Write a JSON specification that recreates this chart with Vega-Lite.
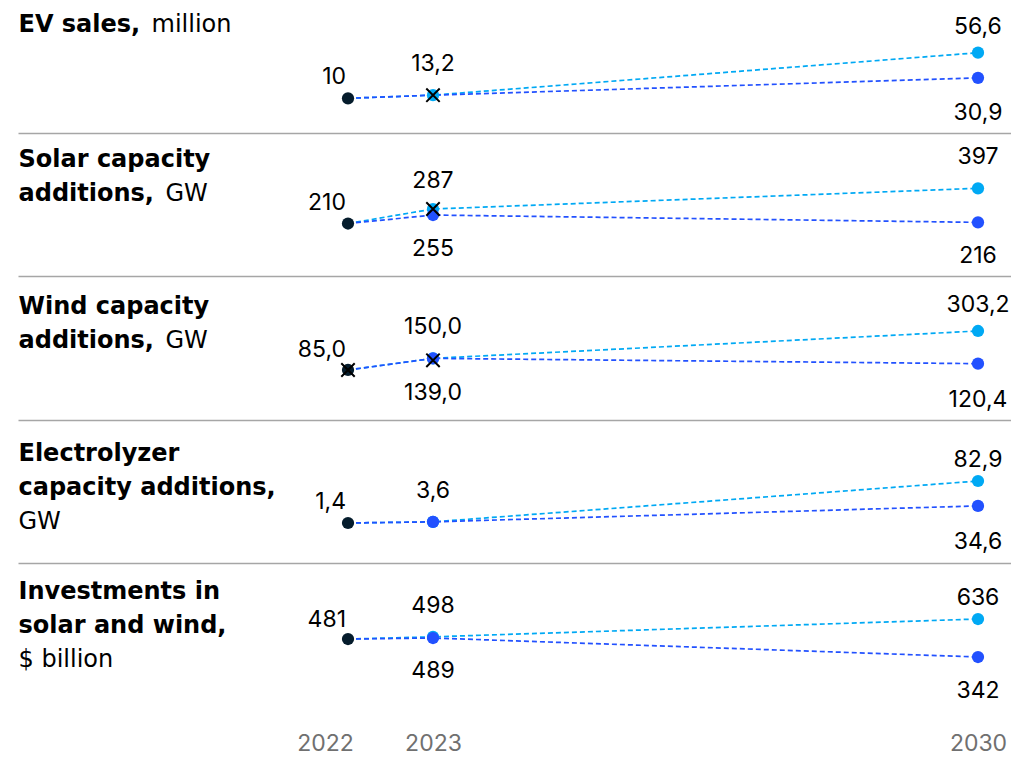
{
  "$schema": "https://vega.github.io/schema/vega-lite/v6.json",
  "padding": {"left": 18, "right": 0, "top": 0, "bottom": 0},
  "background": "#ffffff",
  "spacing": 0,
  "bounds": "flush",
  "data": {
    "values": [
      {"metric": "ev", "year": 2022, "series": "base", "value": 10},
      {"metric": "ev", "year": 2022, "series": "high", "value": 10},
      {"metric": "ev", "year": 2023, "series": "high", "value": 13.2},
      {"metric": "ev", "year": 2030, "series": "high", "value": 56.6},
      {"metric": "ev", "year": 2022, "series": "low", "value": 10},
      {"metric": "ev", "year": 2023, "series": "low", "value": 13.2},
      {"metric": "ev", "year": 2030, "series": "low", "value": 30.9},
      {"metric": "ev", "year": 2023, "series": "actual", "value": 13.2},

      {"metric": "solar", "year": 2022, "series": "base", "value": 210},
      {"metric": "solar", "year": 2022, "series": "high", "value": 210},
      {"metric": "solar", "year": 2023, "series": "high", "value": 287},
      {"metric": "solar", "year": 2030, "series": "high", "value": 397},
      {"metric": "solar", "year": 2022, "series": "low", "value": 210},
      {"metric": "solar", "year": 2023, "series": "low", "value": 255},
      {"metric": "solar", "year": 2030, "series": "low", "value": 216},
      {"metric": "solar", "year": 2023, "series": "actual", "value": 287},

      {"metric": "wind", "year": 2022, "series": "base", "value": 85},
      {"metric": "wind", "year": 2022, "series": "high", "value": 85},
      {"metric": "wind", "year": 2023, "series": "high", "value": 150},
      {"metric": "wind", "year": 2030, "series": "high", "value": 303.2},
      {"metric": "wind", "year": 2022, "series": "low", "value": 85},
      {"metric": "wind", "year": 2023, "series": "low", "value": 150},
      {"metric": "wind", "year": 2030, "series": "low", "value": 120.4},
      {"metric": "wind", "year": 2022, "series": "actual", "value": 85},
      {"metric": "wind", "year": 2023, "series": "actual", "value": 139},

      {"metric": "electrolyzer", "year": 2022, "series": "base", "value": 1.4},
      {"metric": "electrolyzer", "year": 2022, "series": "high", "value": 1.4},
      {"metric": "electrolyzer", "year": 2023, "series": "high", "value": 3.6},
      {"metric": "electrolyzer", "year": 2030, "series": "high", "value": 82.9},
      {"metric": "electrolyzer", "year": 2022, "series": "low", "value": 1.4},
      {"metric": "electrolyzer", "year": 2023, "series": "low", "value": 3.6},
      {"metric": "electrolyzer", "year": 2030, "series": "low", "value": 34.6},

      {"metric": "investment", "year": 2022, "series": "base", "value": 481},
      {"metric": "investment", "year": 2022, "series": "high", "value": 481},
      {"metric": "investment", "year": 2023, "series": "high", "value": 498},
      {"metric": "investment", "year": 2030, "series": "high", "value": 636},
      {"metric": "investment", "year": 2022, "series": "low", "value": 481},
      {"metric": "investment", "year": 2023, "series": "low", "value": 489},
      {"metric": "investment", "year": 2030, "series": "low", "value": 342}
    ]
  },
  "vconcat": [
    {
      "width": 993,
      "height": 133,
      "transform": [{"filter": {"field": "metric", "equal": "ev"}}],
      "encoding": {
        "x": {
          "field": "year", "type": "quantitative",
          "scale": {"domain": [2018.17, 2022, 2023, 2030, 2030.4], "range": [0, 330, 415, 960, 993], "nice": false, "zero": false},
          "axis": {"orient": "bottom", "domain": true, "domainColor": "#a6a6a6", "domainWidth": 1.5, "labels": false, "ticks": false, "grid": false,
                   "title": "million", "titleFontWeight": "normal", "titleFontSize": 24, "titleColor": "#000000",
                   "titleX": 133, "titleY": -102, "titleAlign": "left", "titleBaseline": "alphabetic", "titleAngle": 0}
        },
        "y": {
          "field": "value", "type": "quantitative",
          "scale": {"domain": [-25.46, 110.46], "nice": false, "zero": false},
          "axis": {"domain": false, "labels": false, "ticks": false, "grid": false,
                   "title": "EV sales,", "titleFontWeight": "bold", "titleFontSize": 24, "titleColor": "#000000",
                   "titleAngle": 0, "titleAlign": "left", "titleBaseline": "alphabetic", "titleX": 0, "titleY": 31, "titleLineHeight": 34}
        }
      },
      "layer": [
        {"mark": {"type": "line", "strokeDash": [5, 3], "strokeWidth": 1.7},
         "transform": [{"filter": {"field": "series", "oneOf": ["high", "low"]}}],
         "encoding": {"color": {"field": "series", "type": "nominal", "scale": {"domain": ["high", "low"], "range": ["#00a9f4", "#2251ff"]}, "legend": null}}},
        {"mark": {"type": "circle", "size": 150, "opacity": 1},
         "transform": [{"filter": "(datum.series == 'high' || datum.series == 'low') && datum.year > 2022 && !(datum.series == 'low' && datum.year == 2023)"}],
         "encoding": {"color": {"field": "series", "type": "nominal", "scale": {"domain": ["high", "low"], "range": ["#00a9f4", "#2251ff"]}, "legend": null}}},
        {"mark": {"type": "circle", "size": 150, "opacity": 1, "color": "#051c2c"},
         "transform": [{"filter": {"field": "series", "equal": "base"}}]},
        {"mark": {"type": "point", "shape": "M-1,-1L1,1M1,-1L-1,1", "filled": false, "color": "#000000", "strokeWidth": 2, "size": 180, "opacity": 1},
         "transform": [{"filter": {"field": "series", "equal": "actual"}}]},
        {"mark": {"type": "text", "align": "right", "dx": -2, "dy": -21, "fontSize": 23, "color": "#000000"},
         "transform": [{"filter": {"field": "series", "equal": "base"}}],
         "encoding": {"text": {"field": "value", "type": "quantitative", "format": ".1~f"}}},
        {"mark": {"type": "text", "align": "center", "dy": -31, "fontSize": 23, "color": "#000000"},
         "transform": [{"filter": "datum.series == 'high' && datum.year == 2023"}],
         "encoding": {"text": {"field": "value", "type": "quantitative", "format": ".1~f"}}},
        {"mark": {"type": "text", "align": "center", "dy": -26, "fontSize": 23, "color": "#000000"},
         "transform": [{"filter": "datum.series == 'high' && datum.year == 2030"}],
         "encoding": {"text": {"field": "value", "type": "quantitative", "format": ".1~f"}}},
        {"mark": {"type": "text", "align": "center", "dy": 35, "fontSize": 23, "color": "#000000"},
         "transform": [{"filter": "datum.series == 'low' && datum.year == 2030"}],
         "encoding": {"text": {"field": "value", "type": "quantitative", "format": ".1~f"}}}
      ]
    },
    {
      "width": 993,
      "height": 143,
      "transform": [{"filter": {"field": "metric", "equal": "solar"}}],
      "encoding": {
        "x": {
          "field": "year", "type": "quantitative",
          "scale": {"domain": [2018.17, 2022, 2023, 2030, 2030.4], "range": [0, 330, 415, 960, 993], "nice": false, "zero": false},
          "axis": {"orient": "bottom", "domain": true, "domainColor": "#a6a6a6", "domainWidth": 1.5, "labels": false, "ticks": false, "grid": false,
                   "title": "GW", "titleFontWeight": "normal", "titleFontSize": 24, "titleColor": "#000000",
                   "titleX": 147, "titleY": -76, "titleAlign": "left", "titleBaseline": "alphabetic", "titleAngle": 0}
        },
        "y": {
          "field": "value", "type": "quantitative",
          "scale": {"domain": [-68.9, 690.8], "nice": false, "zero": false},
          "axis": {"domain": false, "labels": false, "ticks": false, "grid": false,
                   "title": ["Solar capacity", "additions,"], "titleFontWeight": "bold", "titleFontSize": 24, "titleColor": "#000000",
                   "titleAngle": 0, "titleAlign": "left", "titleBaseline": "alphabetic", "titleX": 0, "titleY": 33, "titleLineHeight": 34}
        }
      },
      "layer": [
        {"mark": {"type": "line", "strokeDash": [5, 3], "strokeWidth": 1.7},
         "transform": [{"filter": {"field": "series", "oneOf": ["high", "low"]}}],
         "encoding": {"color": {"field": "series", "type": "nominal", "scale": {"domain": ["high", "low"], "range": ["#00a9f4", "#2251ff"]}, "legend": null}}},
        {"mark": {"type": "circle", "size": 150, "opacity": 1},
         "transform": [{"filter": "(datum.series == 'high' || datum.series == 'low') && datum.year > 2022"}],
         "encoding": {"color": {"field": "series", "type": "nominal", "scale": {"domain": ["high", "low"], "range": ["#00a9f4", "#2251ff"]}, "legend": null}}},
        {"mark": {"type": "circle", "size": 150, "opacity": 1, "color": "#051c2c"},
         "transform": [{"filter": {"field": "series", "equal": "base"}}]},
        {"mark": {"type": "point", "shape": "M-1,-1L1,1M1,-1L-1,1", "filled": false, "color": "#000000", "strokeWidth": 2, "size": 180, "opacity": 1},
         "transform": [{"filter": {"field": "series", "equal": "actual"}}]},
        {"mark": {"type": "text", "align": "right", "dx": -2, "dy": -21, "fontSize": 23, "color": "#000000"},
         "transform": [{"filter": {"field": "series", "equal": "base"}}],
         "encoding": {"text": {"field": "value", "type": "quantitative", "format": "d"}}},
        {"mark": {"type": "text", "align": "center", "dy": -28, "fontSize": 23, "color": "#000000"},
         "transform": [{"filter": "datum.series == 'high' && datum.year == 2023"}],
         "encoding": {"text": {"field": "value", "type": "quantitative", "format": "d"}}},
        {"mark": {"type": "text", "align": "center", "dy": 34, "fontSize": 23, "color": "#000000"},
         "transform": [{"filter": "datum.series == 'low' && datum.year == 2023"}],
         "encoding": {"text": {"field": "value", "type": "quantitative", "format": "d"}}},
        {"mark": {"type": "text", "align": "center", "dy": -31, "fontSize": 23, "color": "#000000"},
         "transform": [{"filter": "datum.series == 'high' && datum.year == 2030"}],
         "encoding": {"text": {"field": "value", "type": "quantitative", "format": "d"}}},
        {"mark": {"type": "text", "align": "center", "dy": 34, "fontSize": 23, "color": "#000000"},
         "transform": [{"filter": "datum.series == 'low' && datum.year == 2030"}],
         "encoding": {"text": {"field": "value", "type": "quantitative", "format": "d"}}}
      ]
    },
    {
      "width": 993,
      "height": 144,
      "transform": [{"filter": {"field": "metric", "equal": "wind"}}],
      "encoding": {
        "x": {
          "field": "year", "type": "quantitative",
          "scale": {"domain": [2018.17, 2022, 2023, 2030, 2030.4], "range": [0, 330, 415, 960, 993], "nice": false, "zero": false},
          "axis": {"orient": "bottom", "domain": true, "domainColor": "#a6a6a6", "domainWidth": 1.5, "labels": false, "ticks": false, "grid": false,
                   "title": "GW", "titleFontWeight": "normal", "titleFontSize": 24, "titleColor": "#000000",
                   "titleX": 147, "titleY": -73, "titleAlign": "left", "titleBaseline": "alphabetic", "titleAngle": 0}
        },
        "y": {
          "field": "value", "type": "quantitative",
          "scale": {"domain": [-194.8, 610.9], "nice": false, "zero": false},
          "axis": {"domain": false, "labels": false, "ticks": false, "grid": false,
                   "title": ["Wind capacity", "additions,"], "titleFontWeight": "bold", "titleFontSize": 24, "titleColor": "#000000",
                   "titleAngle": 0, "titleAlign": "left", "titleBaseline": "alphabetic", "titleX": 0, "titleY": 37, "titleLineHeight": 34}
        }
      },
      "layer": [
        {"mark": {"type": "line", "strokeDash": [5, 3], "strokeWidth": 1.7},
         "transform": [{"filter": {"field": "series", "oneOf": ["high", "low"]}}],
         "encoding": {"color": {"field": "series", "type": "nominal", "scale": {"domain": ["high", "low"], "range": ["#00a9f4", "#2251ff"]}, "legend": null}}},
        {"mark": {"type": "circle", "size": 150, "opacity": 1},
         "transform": [{"filter": "(datum.series == 'high' || datum.series == 'low') && datum.year > 2022"}],
         "encoding": {"color": {"field": "series", "type": "nominal", "scale": {"domain": ["high", "low"], "range": ["#00a9f4", "#2251ff"]}, "legend": null}}},
        {"mark": {"type": "circle", "size": 150, "opacity": 1, "color": "#051c2c"},
         "transform": [{"filter": {"field": "series", "equal": "base"}}]},
        {"mark": {"type": "point", "shape": "M-1,-1L1,1M1,-1L-1,1", "filled": false, "color": "#000000", "strokeWidth": 2, "size": 180, "opacity": 1},
         "transform": [{"filter": {"field": "series", "equal": "actual"}}]},
        {"mark": {"type": "text", "align": "right", "dx": -2, "dy": -20, "fontSize": 23, "color": "#000000"},
         "transform": [{"filter": {"field": "series", "equal": "base"}}],
         "encoding": {"text": {"field": "value", "type": "quantitative", "format": ".1f"}}},
        {"mark": {"type": "text", "align": "center", "dy": -31, "fontSize": 23, "color": "#000000"},
         "transform": [{"filter": "datum.series == 'high' && datum.year == 2023"}],
         "encoding": {"text": {"field": "value", "type": "quantitative", "format": ".1f"}}},
        {"mark": {"type": "text", "align": "center", "dy": 33, "fontSize": 23, "color": "#000000"},
         "transform": [{"filter": "datum.series == 'actual' && datum.year == 2023"}],
         "encoding": {"text": {"field": "value", "type": "quantitative", "format": ".1f"}}},
        {"mark": {"type": "text", "align": "center", "dy": -26, "fontSize": 23, "color": "#000000"},
         "transform": [{"filter": "datum.series == 'high' && datum.year == 2030"}],
         "encoding": {"text": {"field": "value", "type": "quantitative", "format": ".1f"}}},
        {"mark": {"type": "text", "align": "center", "dy": 36, "fontSize": 23, "color": "#000000"},
         "transform": [{"filter": "datum.series == 'low' && datum.year == 2030"}],
         "encoding": {"text": {"field": "value", "type": "quantitative", "format": ".1f"}}}
      ]
    },
    {
      "width": 993,
      "height": 143,
      "transform": [{"filter": {"field": "metric", "equal": "electrolyzer"}}],
      "encoding": {
        "x": {
          "field": "year", "type": "quantitative",
          "scale": {"domain": [2018.17, 2022, 2023, 2030, 2030.4], "range": [0, 330, 415, 960, 993], "nice": false, "zero": false},
          "axis": {"orient": "bottom", "domain": true, "domainColor": "#a6a6a6", "domainWidth": 1.5, "labels": false, "ticks": false, "grid": false,
                   "title": "GW", "titleFontWeight": "normal", "titleFontSize": 24, "titleColor": "#000000",
                   "titleX": 0, "titleY": -35, "titleAlign": "left", "titleBaseline": "alphabetic", "titleAngle": 0}
        },
        "y": {
          "field": "value", "type": "quantitative",
          "scale": {"domain": [-76.22, 201.27], "nice": false, "zero": false},
          "axis": {"domain": false, "labels": false, "ticks": false, "grid": false,
                   "title": ["Electrolyzer", "capacity additions,"], "titleFontWeight": "bold", "titleFontSize": 24, "titleColor": "#000000",
                   "titleAngle": 0, "titleAlign": "left", "titleBaseline": "alphabetic", "titleX": 0, "titleY": 40, "titleLineHeight": 34}
        }
      },
      "layer": [
        {"mark": {"type": "line", "strokeDash": [5, 3], "strokeWidth": 1.7},
         "transform": [{"filter": {"field": "series", "oneOf": ["high", "low"]}}],
         "encoding": {"color": {"field": "series", "type": "nominal", "scale": {"domain": ["high", "low"], "range": ["#00a9f4", "#2251ff"]}, "legend": null}}},
        {"mark": {"type": "circle", "size": 150, "opacity": 1},
         "transform": [{"filter": "(datum.series == 'high' || datum.series == 'low') && datum.year > 2022"}],
         "encoding": {"color": {"field": "series", "type": "nominal", "scale": {"domain": ["high", "low"], "range": ["#00a9f4", "#2251ff"]}, "legend": null}}},
        {"mark": {"type": "circle", "size": 150, "opacity": 1, "color": "#051c2c"},
         "transform": [{"filter": {"field": "series", "equal": "base"}}]},
        {"mark": {"type": "text", "align": "right", "dx": -2, "dy": -21, "fontSize": 23, "color": "#000000"},
         "transform": [{"filter": {"field": "series", "equal": "base"}}],
         "encoding": {"text": {"field": "value", "type": "quantitative", "format": ".1f"}}},
        {"mark": {"type": "text", "align": "center", "dy": -31, "fontSize": 23, "color": "#000000"},
         "transform": [{"filter": "datum.series == 'high' && datum.year == 2023"}],
         "encoding": {"text": {"field": "value", "type": "quantitative", "format": ".1f"}}},
        {"mark": {"type": "text", "align": "center", "dy": -21, "fontSize": 23, "color": "#000000"},
         "transform": [{"filter": "datum.series == 'high' && datum.year == 2030"}],
         "encoding": {"text": {"field": "value", "type": "quantitative", "format": ".1f"}}},
        {"mark": {"type": "text", "align": "center", "dy": 36, "fontSize": 23, "color": "#000000"},
         "transform": [{"filter": "datum.series == 'low' && datum.year == 2030"}],
         "encoding": {"text": {"field": "value", "type": "quantitative", "format": ".1f"}}}
      ]
    },
    {
      "width": 993,
      "height": 143,
      "transform": [{"filter": {"field": "metric", "equal": "investment"}}],
      "encoding": {
        "x": {
          "field": "year", "type": "quantitative",
          "scale": {"domain": [2018.17, 2022, 2023, 2030, 2030.4], "range": [0, 330, 415, 960, 993], "nice": false, "zero": false},
          "axis": {"orient": "bottom", "domain": false, "labels": true, "ticks": false, "grid": false,
                   "values": [2022, 2023, 2030], "format": "d", "labelFont": "Inter", "labelFontSize": 23, "labelColor": "#707070",
                   "labelPadding": 26, "labelFlush": false, "labelOverlap": false,
                   "labelOffset": {"expr": "datum.value == 2022 ? -23 : 0"},
                   "title": "$ billion", "titleFontWeight": "normal", "titleFontSize": 24, "titleColor": "#000000",
                   "titleX": 0, "titleY": -40, "titleAlign": "left", "titleBaseline": "alphabetic", "titleAngle": 0}
        },
        "y": {
          "field": "value", "type": "quantitative",
          "scale": {"domain": [-37.1, 1069.3], "nice": false, "zero": false},
          "axis": {"domain": false, "labels": false, "ticks": false, "grid": false,
                   "title": ["Investments in", "solar and wind,"], "titleFontWeight": "bold", "titleFontSize": 24, "titleColor": "#000000",
                   "titleAngle": 0, "titleAlign": "left", "titleBaseline": "alphabetic", "titleX": 0, "titleY": 35, "titleLineHeight": 34}
        }
      },
      "layer": [
        {"mark": {"type": "line", "strokeDash": [5, 3], "strokeWidth": 1.7},
         "transform": [{"filter": {"field": "series", "oneOf": ["high", "low"]}}],
         "encoding": {"color": {"field": "series", "type": "nominal", "scale": {"domain": ["high", "low"], "range": ["#00a9f4", "#2251ff"]}, "legend": null}}},
        {"mark": {"type": "circle", "size": 150, "opacity": 1},
         "transform": [{"filter": "(datum.series == 'high' || datum.series == 'low') && datum.year > 2022"}],
         "encoding": {"color": {"field": "series", "type": "nominal", "scale": {"domain": ["high", "low"], "range": ["#00a9f4", "#2251ff"]}, "legend": null}}},
        {"mark": {"type": "circle", "size": 150, "opacity": 1, "color": "#051c2c"},
         "transform": [{"filter": {"field": "series", "equal": "base"}}]},
        {"mark": {"type": "text", "align": "right", "dx": -2, "dy": -19, "fontSize": 23, "color": "#000000"},
         "transform": [{"filter": {"field": "series", "equal": "base"}}],
         "encoding": {"text": {"field": "value", "type": "quantitative", "format": "d"}}},
        {"mark": {"type": "text", "align": "center", "dy": -31, "fontSize": 23, "color": "#000000"},
         "transform": [{"filter": "datum.series == 'high' && datum.year == 2023"}],
         "encoding": {"text": {"field": "value", "type": "quantitative", "format": "d"}}},
        {"mark": {"type": "text", "align": "center", "dy": 33, "fontSize": 23, "color": "#000000"},
         "transform": [{"filter": "datum.series == 'low' && datum.year == 2023"}],
         "encoding": {"text": {"field": "value", "type": "quantitative", "format": "d"}}},
        {"mark": {"type": "text", "align": "center", "dy": -21, "fontSize": 23, "color": "#000000"},
         "transform": [{"filter": "datum.series == 'high' && datum.year == 2030"}],
         "encoding": {"text": {"field": "value", "type": "quantitative", "format": "d"}}},
        {"mark": {"type": "text", "align": "center", "dy": 34, "fontSize": 23, "color": "#000000"},
         "transform": [{"filter": "datum.series == 'low' && datum.year == 2030"}],
         "encoding": {"text": {"field": "value", "type": "quantitative", "format": "d"}}}
      ]
    }
  ],
  "config": {
    "font": "DejaVu Sans",
    "view": {"stroke": null},
    "axis": {"titleFont": "DejaVu Sans", "labelFont": "Inter"},
    "text": {"font": "Inter"},
    "locale": {"number": {"decimal": ",", "thousands": ".", "grouping": [3], "currency": ["$", ""]}}
  }
}
